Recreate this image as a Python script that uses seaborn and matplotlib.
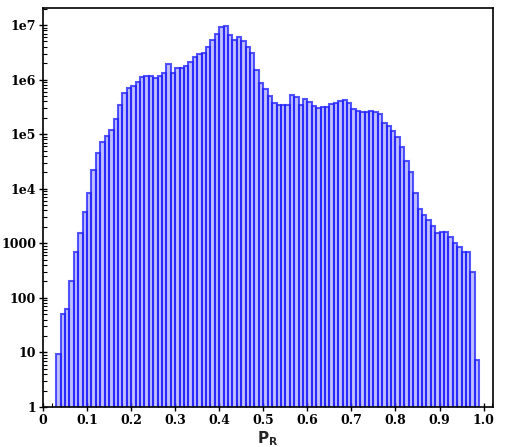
import numpy as np
import pandas as pd
import matplotlib
matplotlib.use('Agg')
import matplotlib.pyplot as plt
import seaborn as sns
from matplotlib.ticker import MultipleLocator, LogLocator, NullFormatter

# bin layout (width 0.01) and counts
bin_start = 0.03
bin_width = 0.01
counts = [
    9.5, 50, 63, 205, 700, 1550, 3700, 8500, 22000, 46000,
    72000, 94000, 120000, 190000, 345000, 570000, 710000, 780000, 920000, 1.12e6,
    1.17e6, 1.17e6, 1.09e6, 1.17e6, 1.35e6, 1.9e6, 1.35e6, 1.66e6, 1.66e6, 1.8e6,
    2.1e6, 2.6e6, 2.95e6, 3.05e6, 3.9e6, 5.4e6, 6.9e6, 9.3e6, 9.8e6, 6.7e6,
    5.4e6, 6.0e6, 5.2e6, 3.9e6, 3.05e6, 1.47e6, 850000, 680000, 510000, 380000,
    345000, 345000, 345000, 530000, 490000, 345000, 450000, 395000, 330000, 305000,
    310000, 320000, 360000, 380000, 400000, 430000, 380000, 295000, 270000, 260000,
    260000, 270000, 260000, 230000, 163000, 144000, 116000, 87000, 59000, 32500,
    20500, 8500, 4300, 3300, 2700, 2100, 1550, 1620, 1620, 1320,
    1020, 870, 700, 700, 300, 7.3,
]
y_ticks = [1, 10, 100, 1000, 1e4, 1e5, 1e6, 1e7]
y_labels = ['1', '10', '100', '1000', '1e4', '1e5', '1e6', '1e7']
x_ticks = [0, 0.1, 0.2, 0.3, 0.4, 0.5, 0.6, 0.7, 0.8, 0.9, 1.0]
x_labels = ['0', '0.1', '0.2', '0.3', '0.4', '0.5', '0.6', '0.7', '0.8', '0.9', '1.0']

n_bins = len(counts)
centers = bin_start + bin_width * (np.arange(n_bins) + 0.5)
df = pd.DataFrame({'PR': centers, 'count': counts})

sns.set_style('ticks')
fig = plt.figure(figsize=(5.06, 4.47), dpi=100)
ax = fig.add_axes([0.085, 0.0895, 0.889, 0.893])

sns.histplot(data=df, x='PR', weights='count', bins=n_bins,
             binrange=(bin_start, bin_start + n_bins * bin_width), ax=ax,
             color='#2020ff', alpha=0.28, edgecolor='#2626ff', linewidth=1.5)
# semi-transparent bar outlines, overlapping ones look darker
for p in ax.patches:
    p.set_edgecolor((0.12, 0.12, 1.0, 0.75))

ax.set_yscale('log')
ax.set_xlim(0, 1.021)
ax.set_ylim(1, 2.07e7)

for s in ax.spines.values():
    s.set_visible(True)
    s.set_linewidth(1.2)
    s.set_color('black')

tick_font = dict(family='DejaVu Serif', weight='bold', size=9)
ax.set_yticks(y_ticks)
ax.set_yticklabels(y_labels, fontdict=tick_font)
ax.yaxis.set_minor_locator(LogLocator(base=10, subs=np.arange(2, 10)))
ax.yaxis.set_minor_formatter(NullFormatter())
ax.set_xticks(x_ticks)
ax.set_xticklabels(x_labels, fontdict=tick_font)
ax.xaxis.set_minor_locator(MultipleLocator(0.02))

ax.tick_params(which='major', direction='inout', length=6, width=1.0, colors='black')
ax.tick_params(which='minor', direction='in', length=3, width=0.8, colors='black')
ax.tick_params(axis='both', which='major', pad=2)

ax.set_xlabel(r'P$_\mathregular{R}$', fontsize=11, fontweight='bold', labelpad=2)
ax.set_ylabel('')
ax.grid(False)

fig.savefig('out.png', dpi=100)
